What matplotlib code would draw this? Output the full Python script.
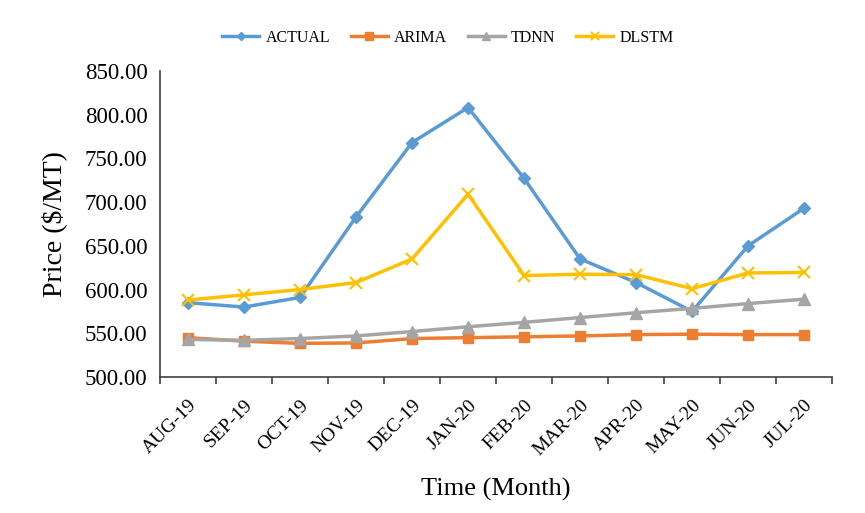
import numpy as np
import matplotlib.pyplot as plt
from matplotlib.ticker import FormatStrFormatter

months = ['AUG-19', 'SEP-19', 'OCT-19', 'NOV-19', 'DEC-19', 'JAN-20',
          'FEB-20', 'MAR-20', 'APR-20', 'MAY-20', 'JUN-20', 'JUL-20']
actual = [585, 580, 591, 683, 768, 808, 727, 635, 608, 575, 650, 693]
arima = [545, 541, 538.5, 539, 544, 545, 546, 547, 548.5, 549, 548.5, 548.5]
tdnn = [543, 542, 544, 547, 552, 557.5, 562.5, 568, 573.5, 578.5, 584, 589]
dlstm = [588, 594, 600, 608, 635, 709, 616, 617.5, 617, 601, 619, 619.5]

plt.rcParams['font.family'] = ['Liberation Serif', 'DejaVu Serif']

fig = plt.figure(figsize=(8.65, 5.13), dpi=100)
ax = fig.add_axes([0.185, 0.265, 0.777, 0.597])

x = np.arange(len(months))
ax.plot(x, actual, color='#5B9BD5', lw=2.5, marker='D', ms=6.5, label='ACTUAL')
ax.plot(x, arima, color='#ED7D31', lw=2.5, marker='s', ms=7.5, label='ARIMA')
ax.plot(x, tdnn, color='#A5A5A5', lw=2.5, marker='^', ms=8.5, label='TDNN')
ax.plot(x, dlstm, color='#FFC000', lw=2.5, marker='x', ms=9, mew=1.5, label='DLSTM')

ax.set_xlim(-0.5, len(months) - 0.5)
ax.set_ylim(500, 850)
ax.set_yticks(np.arange(500, 851, 50))
ax.yaxis.set_major_formatter(FormatStrFormatter('%.2f'))
ax.tick_params(axis='y', length=0, pad=9, labelsize=16.5)

ax.set_xticks(x)
ax.set_xticklabels(months, rotation=45, ha='right', rotation_mode='anchor', fontsize=14)
ax.set_xticks(np.arange(-0.5, len(months), 1), minor=True)
ax.tick_params(axis='x', which='major', length=0, pad=14)
ax.tick_params(axis='x', which='minor', length=5, width=1.2, color='#404040')

for s in ['top', 'right']:
    ax.spines[s].set_visible(False)
for s in ['left', 'bottom']:
    ax.spines[s].set_color('#404040')
    ax.spines[s].set_linewidth(1.2)

ax.set_ylabel('Price ($/MT)', fontsize=20, labelpad=13)
ax.set_xlabel('Time (Month)', fontsize=19, labelpad=14)

fig.legend(loc='center', bbox_to_anchor=(0.518, 0.926), ncol=4, frameon=False,
           fontsize=11.5, handlelength=2.3, columnspacing=1.3, handletextpad=0.4,
           markerscale=0.7)

fig.savefig('out.png', dpi=100)
